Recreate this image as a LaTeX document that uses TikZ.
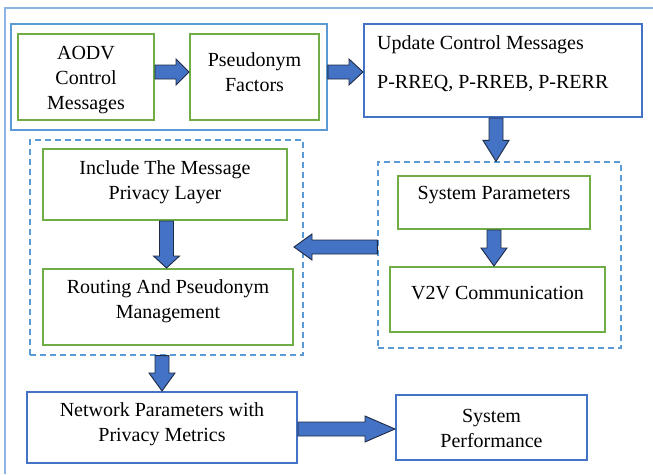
\documentclass[tikz,border=0pt]{standalone}
\usepackage{fontspec}
\setmainfont{Liberation Serif}
\usetikzlibrary{calc}
\definecolor{greenline}{HTML}{70AD47}
\definecolor{blueline}{HTML}{4472C4}
\definecolor{lightblue}{HTML}{5B9BD5}
\definecolor{framecol}{HTML}{8EB4E3}
\definecolor{arrowfill}{HTML}{4472C4}
\definecolor{arrowedge}{HTML}{1F2A44}
\newcommand\blockarrow[3]{%
  \path ($(#2)!#3!(#1)$) coordinate (bah);
  \draw[barrow] ($(#1)!7pt!90:(#2)$) -- ($(bah)!7pt!90:(#2)$) -- ($(bah)!13pt!90:(#2)$) -- (#2)
    -- ($(bah)!13pt!-90:(#2)$) -- ($(bah)!7pt!-90:(#2)$) -- ($(#1)!7pt!-90:(#2)$) -- cycle;}
\begin{document}
\begin{tikzpicture}[x=1pt,y=-1pt,
  box/.style={draw, line width=2pt, inner sep=0pt, rectangle},
  gbox/.style={box, draw=greenline},
  bbox/.style={box, draw=blueline},
  grp/.style={box, draw=lightblue, line width=1.8pt},
  dgrp/.style={box, draw=lightblue, line width=1.2pt, dash pattern=on 6pt off 4pt},
  txt/.style={inner sep=0pt, align=center, font=\fontsize{20}{25}\selectfont},
  frame/.style={draw=framecol, line width=1.5pt},
  barrow/.style={fill=arrowfill, draw=arrowedge, line width=0.9pt, line join=miter}]
\useasboundingbox (0,0) rectangle (653,474);
% outer frame
\coordinate (frbl) at (5,474);
\coordinate (frtl) at (5,8);
\coordinate (frtr) at (653,8);
\draw[frame] (frbl) -- (frtl) -- (frtr);
% groups
\node[grp, minimum width=316pt, minimum height=106pt] (g1) at (169,77) {};
\node[dgrp, minimum width=243pt, minimum height=186pt] (g2) at (499.5,255) {};
\node[dgrp, minimum width=273pt, minimum height=215pt] (g3) at (166.5,247.5) {};
% boxes
\node[gbox, minimum width=136pt, minimum height=86pt] (aodv) at (86,77) {};
\node[gbox, minimum width=129pt, minimum height=86pt] (pf) at (254.5,77) {};
\node[bbox, minimum width=278pt, minimum height=93pt] (upd) at (503,70.5) {};
\node[gbox, minimum width=192pt, minimum height=53pt] (sp) at (494,202.5) {};
\node[gbox, minimum width=215pt, minimum height=65pt] (v2v) at (497.5,299.5) {};
\node[gbox, minimum width=244pt, minimum height=71pt] (inc) at (165,184.5) {};
\node[gbox, minimum width=250pt, minimum height=76pt] (rout) at (168,307) {};
\node[bbox, minimum width=270pt, minimum height=71pt] (net) at (162,427.5) {};
\node[bbox, minimum width=191pt, minimum height=65pt] (sysp) at (491.5,427.5) {};
% texts
\node[txt] (taodv) at (86,80) {AODV\\Control\\Messages};
\node[txt] (tpf) at (254.5,72) {Pseudonym\\Factors};
\node[txt, anchor=west] (tupd1) at (377,45) {Update Control Messages};
\node[txt, anchor=west] (tupd2) at (377,83) {P-RREQ, P-RREB, P-RERR};
\node[txt] (tsp) at (494,195) {System Parameters};
\node[txt] (tv2v) at (497.5,293) {V2V Communication};
\node[txt] (tinc) at (165,182) {Include The Message\\Privacy Layer};
\node[txt] (trout) at (168,301.5) {Routing And Pseudonym\\Management};
\node[txt] (tnet) at (162,424.5) {Network Parameters with\\Privacy Metrics};
\node[txt] (tsysp) at (491.5,428) {System\\Performance};
% arrows
\coordinate (a1s) at ([yshift=5pt]aodv.east);
\coordinate (a1e) at (pf.west |- a1s);
\blockarrow{a1s}{a1e}{13pt}
\coordinate (a2s) at ([yshift=5pt]g1.east);
\coordinate (a2e) at (upd.west |- a2s);
\blockarrow{a2s}{a2e}{14pt}
\coordinate (a3s) at ([xshift=-7pt]upd.south);
\coordinate (a3e) at (a3s |- g2.north);
\blockarrow{a3s}{a3e}{21pt}
\coordinate (a4s) at (sp.south);
\coordinate (a4e) at (sp.south |- v2v.north);
\blockarrow{a4s}{a4e}{18pt}
\coordinate (a5s) at ([yshift=8pt]g2.west);
\coordinate (a5e) at (rout.east |- a5s);
\blockarrow{a5s}{a5e}{18pt}
\coordinate (a6s) at (net.north |- g3.south);
\coordinate (a6e) at (net.north);
\blockarrow{a6s}{a6e}{18pt}
\coordinate (a7s) at ([yshift=-1.5pt]net.east);
\coordinate (a7e) at (sysp.west |- a7s);
\blockarrow{a7s}{a7e}{30pt}
\coordinate (a8s) at ([xshift=1.5pt]inc.south);
\coordinate (a8e) at (a8s |- rout.north);
\blockarrow{a8s}{a8e}{12pt}
\end{tikzpicture}
\end{document}
